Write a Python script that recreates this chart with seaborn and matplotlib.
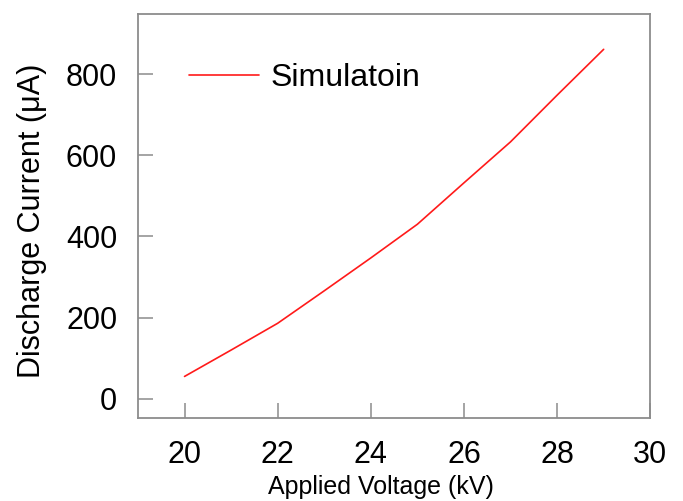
import matplotlib
matplotlib.use("Agg")
import matplotlib.pyplot as plt
import seaborn as sns
import pandas as pd

# Applied voltage (kV) and simulated discharge current (uA)
voltage_kv = [20, 21, 22, 23, 24, 25, 26, 27, 28, 29]
current_ua = [55, 120, 186, 266, 347, 430, 532, 633, 748, 861]
series_name = "Simulatoin"

x_ticks = [20, 22, 24, 26, 28, 30]
y_ticks = [0, 200, 400, 600, 800]

df = pd.DataFrame({"Voltage": voltage_kv, "Current": current_ua, "Series": series_name})

sns.set_style("white")
plt.rcParams["font.family"] = ["Liberation Sans", "DejaVu Sans"]
plt.rcParams["text.color"] = "black"

fig = plt.figure(figsize=(6.83, 5.01), dpi=100)
ax = fig.add_axes([0.202, 0.166, 0.750, 0.806])

sns.lineplot(data=df, x="Voltage", y="Current", hue="Series",
             palette=["#ff1a1a"], linewidth=1.2, ax=ax)

ax.set_xlim(19, 30)
ax.set_ylim(-47, 948)
ax.set_xticks(x_ticks)
ax.set_yticks(y_ticks)

spine_color = "#8c8c8c"
for side, sp in ax.spines.items():
    sp.set_color(spine_color)
    sp.set_linewidth(1.3)

ax.tick_params(axis="both", direction="in", length=11, width=1.1,
               color=spine_color, labelsize=22, labelcolor="black",
               left=True, bottom=True, top=False, right=False)
ax.tick_params(axis="y", pad=15)
ax.tick_params(axis="x", pad=16)

ax.set_xlabel("Applied Voltage (kV)", fontsize=18, color="black")
ax.xaxis.set_label_coords(0.474, -0.141)
ax.set_ylabel("Discharge Current (\u03bcA)", fontsize=22, color="black")
ax.yaxis.set_label_coords(-0.178, 0.487)

leg = ax.legend(loc="upper left", bbox_to_anchor=(0.043, 0.95), frameon=False,
                fontsize=23, handlelength=2.2, handletextpad=0.35)
for t in leg.get_texts():
    t.set_color("black")

fig.savefig("out.png", dpi=100)
